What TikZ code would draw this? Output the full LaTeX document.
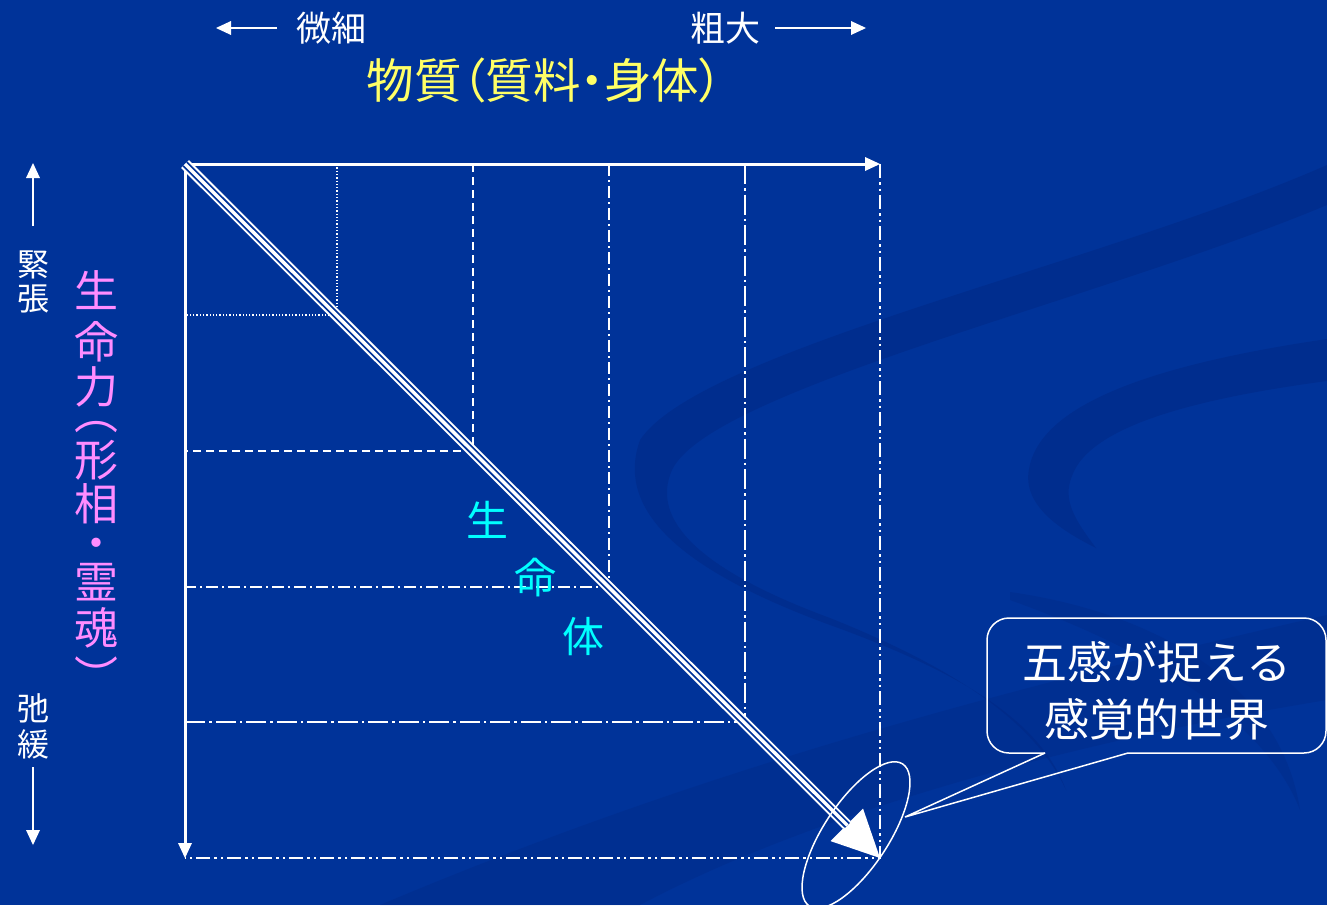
\documentclass[tikz,border=0pt]{standalone}
\usepackage{fontspec}
\setmainfont{Noto Sans CJK JP}
\newfontfamily\jpp{Noto Sans CJK JP}[RawFeature=+palt]
\usetikzlibrary{arrows.meta,shapes.geometric}
\definecolor{bg}{RGB}{0,51,153}
\definecolor{bgdark}{RGB}{0,40,132}
\definecolor{ttlyellow}{RGB}{255,255,102}
\definecolor{pinkc}{RGB}{255,140,255}
\definecolor{cyanc}{RGB}{0,255,255}
\begin{document}
\begin{tikzpicture}[x=1pt,y=-1pt,
  txt/.style={inner sep=0pt, text=white},
  axisline/.style={white, line width=3pt, -{Triangle[length=15pt,width=14pt,line width=0pt]}},
  smallarrow/.style={white, line width=2.6pt, -{Triangle[length=15pt,width=14pt,line width=0pt]}},
  gridA/.style={white, line width=1.2pt, dash pattern=on 1.3pt off 2pt},
  gridB/.style={white, line width=1.3pt, dash pattern=on 8pt off 5pt},
  gridC/.style={white, line width=1.3pt, dash pattern=on 12pt off 4pt on 2pt off 4pt},
  gridD/.style={white, line width=1.3pt, dash pattern=on 20pt off 4pt on 2.5pt off 4pt},
  gridE/.style={white, line width=1.3pt, dash pattern=on 14pt off 4pt on 2.5pt off 4pt on 2.5pt off 4pt},
  thinline/.style={white, line width=1.5pt},
  swirl/.style={fill=bgdark, opacity=0.5},
]
% background
\fill[bg] (0,0) rectangle (1327,905);
\useasboundingbox (0,0) rectangle (1327,905);
% swirls
\fill[swirl] (1327,165) .. controls (1100,265) and (700,350) .. (640,440)
  .. controls (615,510) and (680,570) .. (830,625)
  .. controls (960,672) and (1040,720) .. (1066,790)
  .. controls (1035,722) and (955,668) .. (830,618)
  .. controls (700,570) and (650,520) .. (672,470)
  .. controls (710,390) and (1100,300) .. (1327,205) -- cycle;
\fill[swirl] (1327,339) .. controls (1150,365) and (1040,405) .. (1029,469)
  .. controls (1022,505) and (1060,530) .. (1096,548)
  .. controls (1075,520) and (1062,500) .. (1072,476)
  .. controls (1090,425) and (1200,398) .. (1327,381) -- cycle;
\fill[swirl, opacity=0.35] (1010,592) .. controls (1150,612) and (1280,680) .. (1300,810)
  .. controls (1265,720) and (1150,650) .. (1010,600) -- cycle;
\fill[swirl, opacity=0.35] (380,905) .. controls (700,770) and (1000,690) .. (1327,615) -- (1327,700) .. controls (1050,745) and (800,820) .. (640,905) -- cycle;

% coordinates
\coordinate (O) at (185,164);
\coordinate (TR) at (880,164);
\coordinate (BL) at (185,858);
\coordinate (E) at (880,858);

% grid
\draw[gridA] (337,164) -- (337,315) -- (185,315);
\draw[gridB] (473,164) -- (473,451) -- (185,451);
\draw[gridC] (609,164) -- (609,587) -- (185,587);
\draw[gridD] (745,164) -- (745,722) -- (185,722);
\draw[gridE] (TR) -- (E) -- (BL);

% axes
\draw[axisline] (O) -- (TR);
\draw[axisline] (O) -- (BL);

% diagonal triple arrow
\draw[white, line width=11pt, -{Triangle[length=47pt,width=46pt,line width=0pt]}] (O) -- (E);
\draw[bg, line width=7pt, shorten >=46pt] (O) -- (E);
\draw[white, line width=3.4pt, shorten >=46pt] (O) -- (E);

% ellipse
\node[draw=white, line width=1.5pt, ellipse, rotate=56.7, minimum width=170pt, minimum height=65pt, inner sep=0pt] (ell) at (856,835) {};

% callout
\node[txt, align=center, font=\fontsize{45}{57}\selectfont] (co) at (1157,691) {五感が捉える\\感覚的世界};
\coordinate (cpa) at (1045,753);
\coordinate (cpb) at (1128,753);
\coordinate (ctip) at (905,817);
\draw[thinline, rounded corners=22pt] (cpa) -- (987,753) -- (987,618) -- (1326,618) -- (1326,753) -- (cpb);
\draw[thinline] (cpa) -- (ctip) -- (cpb);

% top labels
\node[txt, font=\fontsize{35}{40}\selectfont] (fine) at (331,28) {微細};
\node[txt, font=\fontsize{35}{40}\selectfont] (coarse) at (725,28) {粗大};
\coordinate (la) at (277,28);
\coordinate (lb) at (216,28);
\coordinate (ra) at (775,28);
\coordinate (rb) at (866,28);
\draw[smallarrow] (la) -- (lb);
\draw[smallarrow] (ra) -- (rb);
\node[txt, text=ttlyellow, font=\jpp\fontsize{47.5}{50}\selectfont] (title) at (545,80) {物質（質料・身体）};

% left labels
\node[txt, align=center, font=\fontsize{32}{34}\selectfont] (tense) at (33,282) {緊\\張};
\node[txt, align=center, font=\fontsize{32}{36}\selectfont] (relax) at (33,726) {弛\\緩};
\coordinate (ua) at (33,226);
\coordinate (ub) at (33,163);
\coordinate (da) at (33,767);
\coordinate (db) at (33,845);
\draw[smallarrow] (ua) -- (ub);
\draw[smallarrow] (da) -- (db);

% pink vertical text
\node[txt, text=pinkc, anchor=north, align=center, font=\fontsize{44}{44}\selectfont] (life) at (96,270)
  {生\\[7pt]命\\[1pt]力\\[-18pt]︵\\[3pt]形\\相\\[-5pt]・\\[-5pt]霊\\[2pt]魂\\[5pt]︶};

% cyan
\node[txt, text=cyanc, font=\fontsize{42}{42}\selectfont] (c1) at (487,520) {生};
\node[txt, text=cyanc, font=\fontsize{42}{42}\selectfont] (c2) at (535,578) {命};
\node[txt, text=cyanc, font=\fontsize{42}{42}\selectfont] (c3) at (583,637) {体};
\end{tikzpicture}
\end{document}
